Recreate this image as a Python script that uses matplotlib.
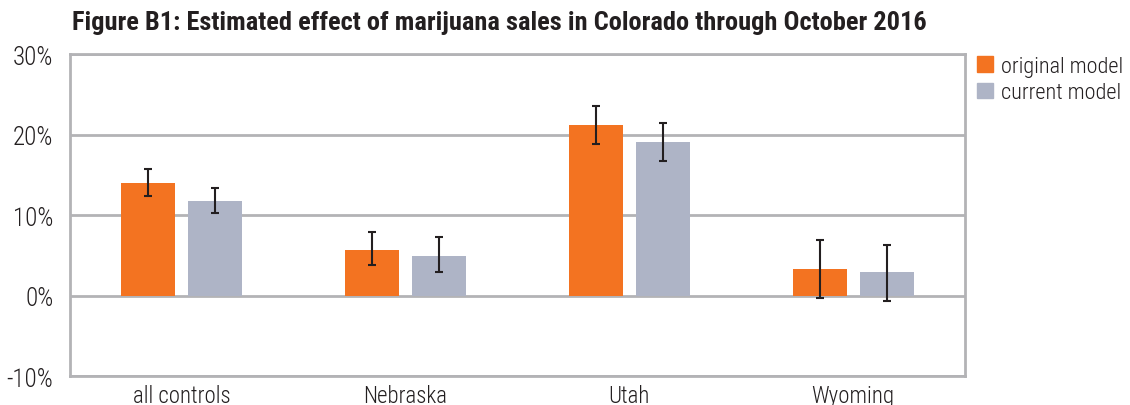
import numpy as np
import matplotlib.pyplot as plt
from matplotlib.patches import Patch

categories = ['all controls', 'Nebraska', 'Utah', 'Wyoming']
series_names = ['original model', 'current model']
original = [14.0, 5.7, 21.2, 3.3]
original_lo = [12.3, 3.8, 18.8, -0.3]
original_hi = [15.7, 7.9, 23.5, 6.9]
current = [11.8, 4.9, 19.1, 2.9]
current_lo = [10.2, 2.9, 16.7, -0.7]
current_hi = [13.3, 7.3, 21.4, 6.3]
yticks = [-10, 0, 10, 20, 30]

plt.rcParams['font.family'] = ['Roboto Condensed', 'PT Sans Narrow',
                               'IBM Plex Sans Condensed', 'Roboto', 'DejaVu Sans']

ORANGE = '#F37321'
GREY = '#AEB4C6'
FRAME = '#B3B3B6'
INK = '#231F20'

fig = plt.figure(figsize=(11.3, 4.06), dpi=100)
ax = fig.add_axes([0.0619, 0.0714, 0.7921, 0.7931])

x = np.arange(len(categories))
w = 0.241
off = 0.15

for vals, lo, hi, col, sign in [(original, original_lo, original_hi, ORANGE, -1),
                                 (current, current_lo, current_hi, GREY, 1)]:
    vals = np.array(vals)
    yerr = np.vstack([vals - np.array(lo), np.array(hi) - vals])
    ax.bar(x + sign * off, vals, width=w, color=col, zorder=3)
    ax.errorbar(x + sign * off, vals, yerr=yerr, fmt='none', ecolor=INK,
                elinewidth=1.5, capsize=3, capthick=1.5, zorder=4)

ax.set_xlim(-0.5, 3.5)
ax.set_ylim(-10, 30)
ax.set_yticks(yticks)
ax.set_yticklabels([f'{t}%' for t in yticks])
ax.set_xticks(x)
ax.set_xticklabels(categories)
ax.tick_params(axis='both', length=0, colors=INK)
ax.tick_params(axis='y', pad=12, labelsize=18)
ax.tick_params(axis='x', pad=6, labelsize=16.5)
for lab in ax.get_xticklabels() + ax.get_yticklabels():
    lab.set_fontweight(300)
ax.yaxis.grid(True, color=FRAME, linewidth=2, zorder=0)
ax.set_axisbelow(True)
for s in ax.spines.values():
    s.set_color(FRAME)
    s.set_linewidth(2)

fig.text(0.0637, 0.943, 'Figure B1: Estimated effect of marijuana sales in Colorado through October 2016',
         fontsize=19, fontweight='bold', color=INK, va='center', ha='left')

handles = [Patch(color=ORANGE), Patch(color=GREY)]
leg = fig.legend(handles, series_names, loc='upper left', bbox_to_anchor=(0.865, 0.86),
                 frameon=False, fontsize=16, handlelength=0.7, handleheight=0.7,
                 handletextpad=0.35, labelspacing=0.25, borderpad=0, borderaxespad=0,
                 labelcolor=INK)
for t in leg.get_texts():
    t.set_fontweight(300)

fig.savefig('out.png', dpi=100)
